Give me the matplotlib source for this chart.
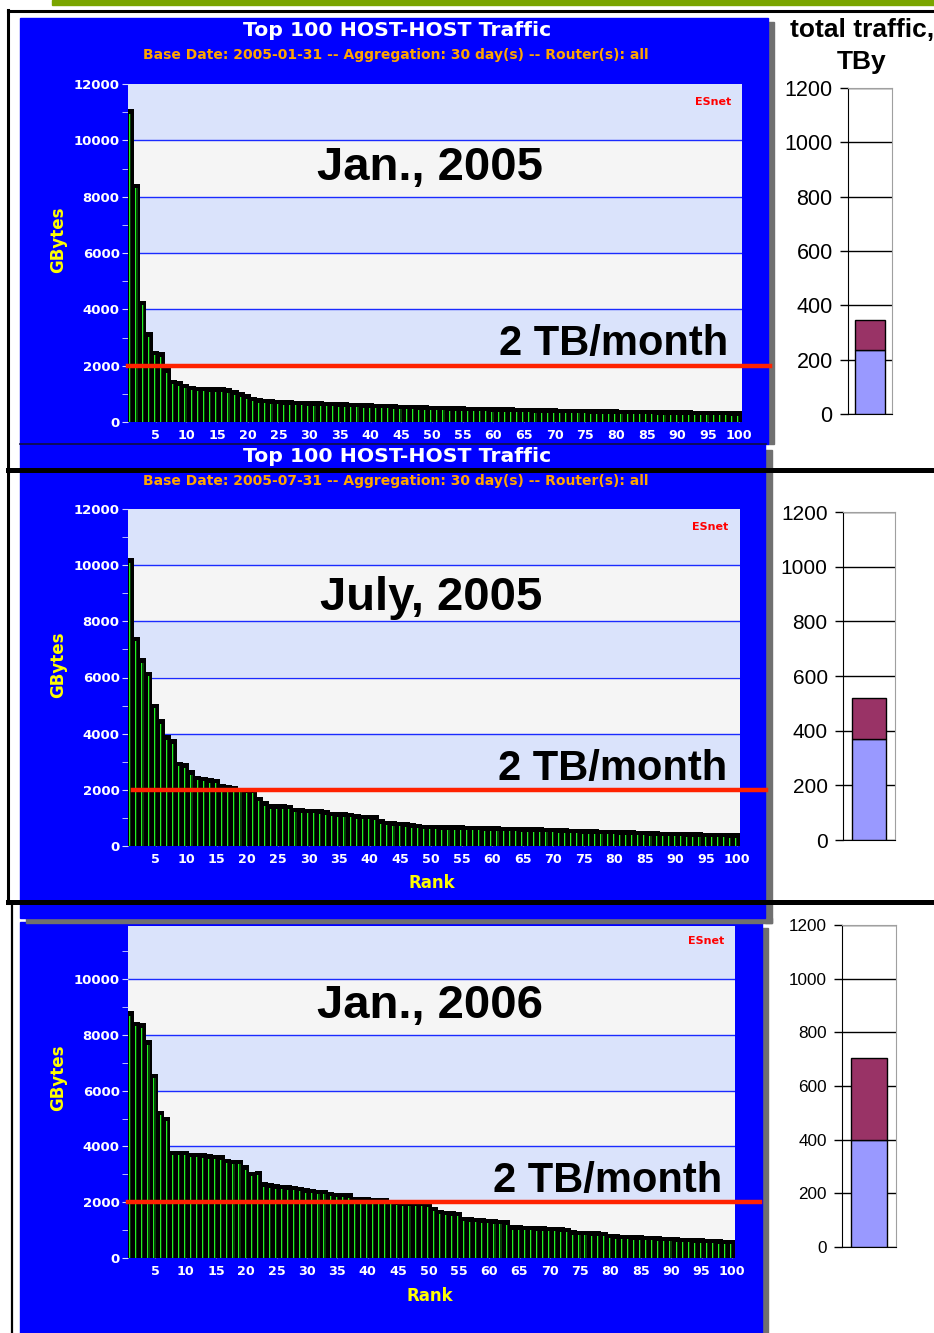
import numpy as np
import matplotlib
matplotlib.use("Agg")
from matplotlib import pyplot as plt
from matplotlib.patches import Rectangle

W, H = 934, 1333

ranks = np.arange(1, 101)

# GBytes per host pair, ranked
jan05_gb = [11100, 8450, 4300, 3180, 2530, 2470, 1900, 1500, 1440, 1360,
            1280, 1250, 1250, 1240, 1240, 1230, 1200, 1130, 1060, 980,
            900, 850, 830, 800, 790, 780, 770, 760, 750, 745,
            740, 730, 720, 715, 705, 700, 690, 680, 670, 665,
            650, 645, 640, 630, 620, 615, 610, 600, 590, 580,
            575, 570, 565, 560, 555, 550, 545, 540, 535, 530,
            525, 520, 515, 510, 505, 500, 495, 490, 485, 480,
            478, 474, 470, 466, 462, 458, 455, 452, 449, 446,
            443, 440, 437, 434, 431, 428, 425, 422, 419, 416,
            413, 410, 407, 404, 401, 398, 395, 392, 389, 386]

jul05_gb = [10250, 7450, 6680, 6200, 5060, 4520, 3950, 3800, 3000, 2940,
            2700, 2500, 2470, 2410, 2400, 2200, 2180, 2140, 2080, 2060,
            2050, 1760, 1600, 1490, 1480, 1480, 1470, 1370, 1340, 1330,
            1320, 1300, 1280, 1220, 1210, 1200, 1190, 1130, 1120, 1110,
            1100, 960, 900, 880, 860, 850, 810, 790, 760, 750,
            748, 745, 740, 735, 730, 725, 720, 715, 710, 700,
            695, 690, 685, 680, 675, 670, 665, 660, 655, 650,
            640, 630, 620, 610, 600, 595, 590, 585, 580, 570,
            565, 560, 555, 550, 540, 530, 520, 515, 510, 505,
            500, 495, 490, 485, 480, 475, 470, 465, 460, 450]

jan06_gb = [8850, 8470, 8410, 7810, 6600, 5280, 5070, 3850, 3850, 3840,
            3780, 3770, 3750, 3720, 3700, 3680, 3560, 3530, 3520, 3330,
            3090, 3130, 2710, 2680, 2640, 2620, 2600, 2580, 2560, 2500,
            2490, 2450, 2440, 2380, 2330, 2330, 2320, 2200, 2190, 2180,
            2160, 2150, 2140, 2080, 2050, 2040, 2030, 2020, 2010, 2000,
            1840, 1720, 1700, 1680, 1660, 1480, 1460, 1440, 1420, 1400,
            1380, 1370, 1360, 1180, 1170, 1160, 1150, 1140, 1130, 1120,
            1110, 1100, 1090, 1000, 980, 970, 960, 950, 940, 860,
            850, 840, 830, 820, 810, 800, 790, 780, 770, 760,
            740, 730, 720, 710, 700, 690, 680, 670, 660, 645]

month_labels = ["Jan., 2005", "July, 2005", "Jan., 2006"]
base_dates = ["2005-01-31", "2005-07-31", "2006-01-31"]

# total traffic, TBy (stacked: lower part, upper part)
total_lower = [235, 370, 400]
total_upper = [110, 150, 303]

threshold_gb = 2000

BLUE = "#0000ff"
LIGHT = "#dae3fb"
PALE = "#f5f5f5"
SANS = "DejaVu Sans"
ARIAL = "Liberation Sans"


def box(x0, y0, x1, y1):
    return [x0 / W, 1 - y1 / H, (x1 - x0) / W, (y1 - y0) / H]


def draw_hosts(ax, values, ymax, yticks, red_from, red_to):
    ax.set_xlim(0.5, 100.5)
    ax.set_ylim(0, ymax)
    ax.set_facecolor(PALE)
    for lo in (2000, 6000, 10000):
        ax.axhspan(lo, lo + 2000, color=LIGHT, zorder=0, lw=0)
    for g in (2000, 4000, 6000, 8000, 10000, 12000):
        if g < ymax:
            ax.axhline(g, color="#1a2bff", lw=1.0, zorder=0.5)
    vals = np.array(values)
    # 3-D style bar: black body, dark green face, bright green edge line
    ax.bar(ranks, vals, width=1.0, color="black", zorder=2)
    ax.bar(ranks - 0.1, vals - 160, width=0.3, color="#063d06", zorder=2.1,
           antialiased=False)
    ax.vlines(ranks - 0.3, 0, vals - 160, color="#22f022", lw=0.55,
              zorder=2.2, antialiased=False)
    ax.axhline(threshold_gb, xmin=red_from, xmax=red_to, color="#ff2200",
               lw=3.2, zorder=3, clip_on=False)
    for s in ax.spines.values():
        s.set_visible(False)
    ax.set_xticks(range(5, 101, 5))
    ax.set_xticklabels([str(t) for t in range(5, 101, 5)], fontweight="bold",
                       color="white", fontsize=9.2, family=SANS)
    ax.set_yticks(yticks)
    ax.set_yticklabels([str(t) for t in yticks], fontweight="bold",
                       color="white", fontsize=9.5, family=SANS)
    ax.set_yticks(range(1000, int(ymax), 2000), minor=True)
    ax.tick_params(axis="x", direction="in", color="#9aa0b0", length=4, pad=5)
    ax.tick_params(axis="y", which="both", direction="out", color="#d0d8ff",
                   length=4, pad=2)


def draw_total(ax, i, fsize, width):
    ax.bar(0, total_lower[i], width=width, color="#9999ff",
           edgecolor="black", lw=1, zorder=3)
    ax.bar(0, total_upper[i], width=width, bottom=total_lower[i],
           color="#993366", edgecolor="black", lw=1, zorder=3)
    ax.set_xlim(-0.5, 0.5)
    ax.set_ylim(0, 1200)
    ax.set_yticks(range(0, 1201, 200))
    ax.set_yticklabels([str(t) for t in range(0, 1201, 200)],
                       family=ARIAL, fontsize=fsize)
    ax.set_xticks([])
    ax.yaxis.grid(True, color="black", lw=1)
    ax.set_axisbelow(True)
    ax.spines["left"].set_color("black")
    ax.spines["bottom"].set_color("black")
    ax.spines["right"].set_color("#a0a0a0")
    ax.spines["top"].set_color("#a0a0a0")
    ax.tick_params(axis="y", direction="out", length=6, width=1, pad=5)


fig = plt.figure(figsize=(W / 100, H / 100), dpi=100)

# background: blue report panels with grey drop shadows
bg = fig.add_axes([0, 0, 1, 1], zorder=0)
bg.set_xlim(0, W)
bg.set_ylim(H, 0)
bg.axis("off")
bg.add_patch(Rectangle((762, 928), 6, 405, color="#707070"))
bg.add_patch(Rectangle((20, 922), 742, 411, color=BLUE))
bg.add_patch(Rectangle((765, 450), 7, 473, color="#707070"))
bg.add_patch(Rectangle((26, 918), 746, 5, color="#707070"))
bg.add_patch(Rectangle((20, 444), 745, 474, color=BLUE))
bg.add_patch(Rectangle((768, 22), 6, 422, color="#707070"))
bg.add_patch(Rectangle((20, 18), 748, 426, color=BLUE))
bg.plot([20, 766], [444, 444], color="#101040", lw=1.2)

# Top 100 charts
ax1 = fig.add_axes(box(128, 84, 742, 422), zorder=1)
draw_hosts(ax1, jan05_gb, 12000, range(0, 12001, 2000), 0.0, 1.046)
ax2 = fig.add_axes(box(128, 509, 740, 846), zorder=1)
draw_hosts(ax2, jul05_gb, 12000, range(0, 12001, 2000), 0.008, 1.042)
ax3 = fig.add_axes(box(128, 926, 735, 1258), zorder=1)
draw_hosts(ax3, jan06_gb, 11900, range(0, 10001, 2000), 0.0, 1.041)

# total traffic charts
r1 = fig.add_axes(box(848, 88, 892, 414), zorder=1)
draw_total(r1, 0, 15.5, 0.66)
r2 = fig.add_axes(box(843, 512, 895, 840), zorder=1)
draw_total(r2, 1, 15, 0.654)
r3 = fig.add_axes(box(842, 925, 896, 1247), zorder=1)
draw_total(r3, 2, 12.3, 0.65)

# overlay: frames and annotations
ov = fig.add_axes([0, 0, 1, 1], zorder=5)
ov.set_xlim(0, W)
ov.set_ylim(H, 0)
ov.axis("off")
ov.patch.set_alpha(0)

ov.add_patch(Rectangle((52, 0), W - 52, 5, color="#7aa500"))
ov.plot([8, W], [11, 11], color="black", lw=2.2)
ov.plot([8, 8], [10, 472], color="black", lw=2.2)
ov.plot([8, W], [470, 470], color="black", lw=3.6)
ov.plot([8, 8], [470, 903], color="black", lw=2.2)
ov.plot([8, W], [902, 902], color="black", lw=3.6)
ov.plot([12, 12], [902, H], color="black", lw=1.6)

for yt in (31, 457):
    ov.text(397, yt, "Top 100 HOST-HOST Traffic", color="white",
            fontweight="bold", fontsize=14.7, family=SANS, ha="center", va="center")
for k, ys in enumerate((55, 481)):
    ov.text(396, ys, "Base Date: %s -- Aggregation: 30 day(s) -- Router(s): all"
            % base_dates[k], color="#ffa500", fontweight="bold", fontsize=10,
            family=SANS, ha="center", va="center")

for yc in (240, 665, 1078):
    ov.text(58, yc, "GBytes", color="#ffff00", fontweight="bold", fontsize=12,
            family=SANS, rotation=90, ha="center", va="center")
for xc, yc in ((432, 883), (430, 1296)):
    ov.text(xc, yc, "Rank", color="#ffff00", fontweight="bold", fontsize=12,
            family=SANS, ha="center", va="center")
for xr, yc in ((731, 102), (728, 527), (724, 941)):
    ov.text(xr, yc, "ESnet", color="#ff0000", fontweight="bold", fontsize=8,
            family=SANS, ha="right", va="center")

for (xc, yc), lbl in zip(((430, 168), (431, 598), (430, 1006)), month_labels):
    ov.text(xc, yc, lbl, color="black", fontweight="bold", fontsize=34,
            family=ARIAL, ha="center", va="center")
for xr, yc in ((728, 344), (727, 769), (722, 1181)):
    ov.text(xr, yc, "2 TB/month", color="black", fontweight="bold", fontsize=30,
            family=ARIAL, ha="right", va="center")

ov.text(862, 30, "total traffic,", color="black", fontweight="bold",
        fontsize=19, family=ARIAL, ha="center", va="center")
ov.text(862, 62, "TBy", color="black", fontweight="bold",
        fontsize=19, family=ARIAL, ha="center", va="center")

fig.savefig("out.png", dpi=100)
